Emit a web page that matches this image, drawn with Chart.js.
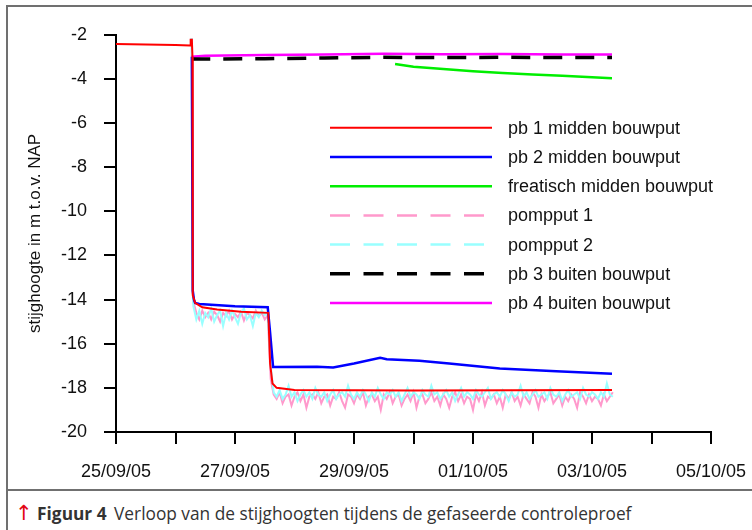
<!DOCTYPE html>
<html>
<head>
<meta charset="utf-8">
<script src="https://cdn.jsdelivr.net/npm/chart.js@4.4.1/dist/chart.umd.min.js"></script>
<style>
  html, body { margin: 0; padding: 0; background: #fff; overflow: hidden; }
  #frame {
    position: absolute; left: 6px; top: 5px;
    width: 800px; height: 600px;
    border: 2px solid #707070;
  }
  #chartBox { position: relative; width: 744px; height: 482px; }
  #caption {
    border-top: 2px solid #707070;
    height: 60px;
    font-family: "Open Sans", sans-serif;
    font-size: 17.3px;
    color: #333;
    padding: 10px 0 0 7px;
    box-sizing: border-box;
    white-space: nowrap;
  }
  #caption .arrow { color: #e30613; font-size: 21px; font-family: "DejaVu Sans", sans-serif; }
  #caption b { color: #333; margin-right: 3px; }
</style>
</head>
<body>
<div id="frame">
  <div id="chartBox"><canvas id="chart" width="744" height="482"></canvas></div>
  <div id="caption"><span class="arrow">&#8593;</span> <b>Figuur 4</b> Verloop van de stijghoogten tijdens de gefaseerde controleproef</div>
</div>
<script>
// x values are days since 25/09/05 00:00
const dateLabels = ['25/09/05', '27/09/05', '29/09/05', '01/10/05', '03/10/05', '05/10/05'];
const seriesNames = ['pb 1 midden bouwput', 'pb 2 midden bouwput', 'freatisch midden bouwput',
    'pompput 1', 'pompput 2', 'pb 3 buiten bouwput', 'pb 4 buiten bouwput'];

const pb1 = [[0, -2.42], [0.5, -2.44], [1.0, -2.46], [1.245, -2.48], [1.255, -2.22], [1.275, -2.22],
    [1.285, -3.0], [1.29, -13.8], [1.33, -14.15], [1.45, -14.35], [1.7, -14.45], [2.1, -14.55],
    [2.56, -14.6], [2.59, -16.9], [2.63, -17.8], [2.7, -18.0], [3.0, -18.1], [5.0, -18.12], [8.336, -18.1]];
const pb2 = [[1.275, -3.0], [1.29, -13.6], [1.31, -14.0], [1.33, -14.15], [1.4, -14.2], [2.0, -14.3],
    [2.55, -14.35], [2.59, -15.5], [2.64, -17.05], [3.38, -17.04], [3.65, -17.08], [4.0, -16.9],
    [4.44, -16.64], [4.55, -16.7], [5.1, -16.77], [5.6, -16.9], [6.45, -17.12], [7.4, -17.25], [8.336, -17.36]];
const freatisch = [[4.69, -3.32], [5.0, -3.45], [5.5, -3.55], [6.0, -3.65], [6.5, -3.73],
    [7.0, -3.8], [7.5, -3.86], [8.336, -3.97]];
const pb3 = [[1.265, -3.1], [2.5, -3.08], [3.5, -3.05], [4.5, -3.02], [5.5, -3.03], [6.5, -3.02],
    [7.5, -3.03], [8.336, -3.03]];
const pb4 = [[1.265, -3.0], [1.5, -2.95], [2.5, -2.92], [3.5, -2.89], [4.5, -2.86], [5.5, -2.88],
    [6.5, -2.87], [7.5, -2.89], [8.336, -2.89]];

// pompputten: logger readings every 0.05 day from day 1.30
const logStart = 1.30;
const logStep = 0.05;
const pomp1Head = [[1.255, -2.2], [1.275, -2.2], [1.29, -13.6]];
const pomp2Head = [[1.25, -2.2], [1.27, -2.2], [1.285, -13.4]];
const pompput1 = [
    -14.1, -14.6, -14.9, -14.5, -14.8, -14.6, -14.9, -14.55, -14.7, -15.0,
    -14.6, -14.75, -14.5, -14.9, -14.65, -14.8, -14.55, -14.95, -14.6, -14.7,
    -14.85, -14.5, -14.75, -14.6, -14.9, -14.7,
    -17.6, -18.3, -18.5, -18.2, -18.7, -18.4, -18.3, -18.8, -18.4, -18.2,
    -18.6, -18.3, -18.9, -18.4, -18.3, -18.5, -18.2, -18.7, -18.4, -18.3,
    -18.8, -18.4, -18.5, -18.2, -18.6, -18.9, -18.3, -18.4, -18.7, -18.3,
    -18.5, -18.2, -18.8, -18.4, -18.3, -18.6, -18.4, -19.0, -18.3, -18.5,
    -18.2, -18.7, -18.4, -18.3, -18.8, -18.5, -18.3, -18.6, -18.2, -18.9,
    -18.4, -18.3, -18.7, -18.5, -18.2, -18.6, -18.4, -18.8, -18.3, -18.5,
    -18.9, -18.4, -18.2, -18.6, -18.3, -18.7, -18.4, -18.5, -19.0, -18.3,
    -18.6, -18.2, -18.8, -18.4, -18.5, -18.3, -18.7, -18.4, -18.9, -18.3,
    -18.5, -18.2, -18.6, -18.4, -18.8, -18.3, -18.5, -18.7, -18.2, -18.4,
    -18.9, -18.3, -18.6, -18.4, -18.2, -18.7, -18.5, -18.3, -18.8, -18.4,
    -18.6, -18.3, -18.5, -18.9, -18.2, -18.4, -18.7, -18.3, -18.6, -18.4,
    -18.5, -18.8, -18.3, -18.6, -18.4, -18.2
];
const pompput2 = [
    -14.3, -14.9, -14.5, -15.1, -14.6, -14.8, -14.4, -15.0, -14.7, -14.5,
    -15.2, -14.6, -14.9, -14.5, -14.8, -15.1, -14.6, -14.4, -14.9, -14.7,
    -15.2, -14.6, -14.8, -14.5, -14.7, -14.6,
    -17.0, -18.2, -18.4, -18.1, -18.5, -18.3, -17.9, -18.4, -18.2, -18.6,
    -18.3, -18.1, -18.4, -18.2, -18.5, -18.0, -18.3, -18.4, -18.2, -18.6,
    -18.3, -18.1, -18.5, -18.3, -18.2, -18.4, -17.9, -18.3, -18.5, -18.2,
    -18.4, -18.1, -18.3, -18.6, -18.2, -18.4, -18.0, -18.3, -18.5, -18.2,
    -18.3, -18.1, -18.4, -18.2, -18.6, -18.3, -18.0, -18.4, -18.2, -18.3,
    -18.5, -18.1, -18.3, -18.4, -17.9, -18.3, -18.2, -18.5, -18.3, -18.1,
    -18.4, -18.2, -18.6, -18.3, -18.0, -18.4, -18.2, -18.3, -18.5, -18.1,
    -18.3, -18.4, -18.2, -18.0, -18.5, -18.3, -18.2, -18.4, -18.1, -18.3,
    -18.6, -18.2, -18.4, -18.3, -17.9, -18.4, -18.2, -18.5, -18.3, -18.1,
    -18.4, -18.3, -18.2, -18.5, -18.0, -18.3, -18.4, -18.2, -18.6, -18.3,
    -18.1, -18.4, -18.3, -18.2, -18.5, -18.0, -18.3, -18.4, -18.2, -18.3,
    -18.5, -18.2, -18.4, -17.8, -18.3, -18.4
];

const toPoints = (pairs) => pairs.map(([x, y]) => ({x, y}));
const loggerPoints = (head, values) =>
    toPoints(head).concat(values.map((y, i) => ({x: logStart + i * logStep, y})));

const axisFont = {family: 'Liberation Sans, Arial, sans-serif', size: 18};

// draws the legend as long line samples inside the plot area
const lineLegend = {
    id: 'lineLegend',
    afterDatasetsDraw(chart, args, opts) {
        const {ctx, chartArea} = chart;
        ctx.save();
        chart.data.datasets.forEach((ds, i) => {
            const x = chartArea.left + opts.left;
            const y = chartArea.top + opts.top + i * opts.rowGap;
            ctx.beginPath();
            ctx.setLineDash(ds.legendDash || []);
            ctx.strokeStyle = ds.borderColor;
            ctx.lineWidth = ds.legendWidth || ds.borderWidth;
            ctx.moveTo(x, y);
            ctx.lineTo(x + opts.lineLength, y);
            ctx.stroke();
            ctx.setLineDash([]);
            ctx.fillStyle = '#111';
            ctx.font = opts.font;
            ctx.textBaseline = 'middle';
            ctx.fillText(ds.label, x + opts.lineLength + opts.gap, y + 1);
        });
        ctx.restore();
    }
};

new Chart(document.getElementById('chart'), {
    type: 'line',
    data: {
        datasets: [
            {label: seriesNames[0], data: toPoints(pb1), borderColor: '#ff0000', borderWidth: 2},
            {label: seriesNames[1], data: toPoints(pb2), borderColor: '#0000ff', borderWidth: 2.5},
            {label: seriesNames[2], data: toPoints(freatisch), borderColor: '#00ee00', borderWidth: 2.5},
            {label: seriesNames[3], data: loggerPoints(pomp1Head, pompput1), borderColor: '#ff99cc',
                borderWidth: 2, order: 2, legendDash: [20, 13.5], legendWidth: 2.5},
            {label: seriesNames[4], data: loggerPoints(pomp2Head, pompput2), borderColor: '#99ffff',
                borderWidth: 2, order: 1, legendDash: [20, 13.5], legendWidth: 2.5},
            {label: seriesNames[5], data: toPoints(pb3), borderColor: '#000000', borderWidth: 3.5,
                borderDash: [19, 13], legendDash: [20, 13.5]},
            {label: seriesNames[6], data: toPoints(pb4), borderColor: '#ff00ff', borderWidth: 2.5}
        ]
    },
    options: {
        responsive: false,
        animation: false,
        parsing: false,
        layout: {padding: {left: 0, top: 27, right: 41, bottom: 0}},
        elements: {
            point: {radius: 0},
            line: {tension: 0, fill: false}
        },
        plugins: {
            legend: {display: false},
            tooltip: {enabled: false},
            lineLegend: {
                left: 214, top: 93, rowGap: 29.2, lineLength: 162, gap: 16,
                font: '18px "Liberation Sans", Arial, sans-serif'
            }
        },
        scales: {
            x: {
                type: 'linear',
                min: 0,
                max: 10,
                afterFit(scale) {
                    scale.height = 57;
                    scale.paddingLeft = 0;
                    scale.paddingRight = 0;
                },
                border: {color: '#000', width: 2},
                grid: {drawOnChartArea: false, color: '#000', lineWidth: 2, tickLength: 12},
                ticks: {
                    stepSize: 1,
                    autoSkip: false,
                    maxRotation: 0,
                    padding: 17,
                    color: '#111',
                    font: axisFont,
                    callback: (v) => (v % 2 === 0 ? dateLabels[v / 2] : '')
                }
            },
            y: {
                min: -20,
                max: -2,
                afterFit(scale) { scale.width = 108; },
                border: {color: '#000', width: 2},
                grid: {drawOnChartArea: false, color: '#000', lineWidth: 2, tickLength: 12},
                ticks: {stepSize: 2, padding: 17, color: '#111', font: axisFont},
                title: {
                    display: true,
                    text: 'stijghoogte in m t.o.v. NAP',
                    color: '#111',
                    font: {family: 'Liberation Sans, Arial, sans-serif', size: 17},
                    padding: {top: 17, bottom: 0}
                }
            }
        }
    },
    plugins: [lineLegend]
});
</script>
</body>
</html>
